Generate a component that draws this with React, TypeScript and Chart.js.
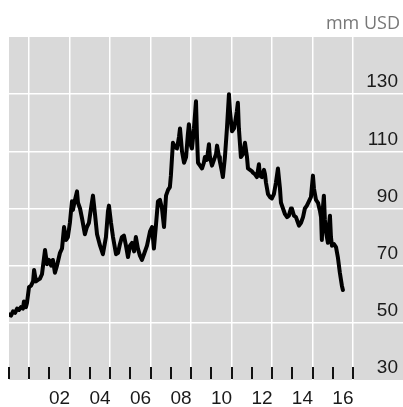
import React, { useEffect, useRef } from "react";
import { Chart, registerables } from "chart.js";

Chart.register(...registerables);

// Decimal-year positions of the traced points
const years: number[] = [
  2000.00, 2000.10, 2000.20, 2000.30, 2000.40, 2000.49, 2000.59, 2000.69, 2000.74, 2000.84,
  2000.89, 2000.99, 2001.09, 2001.19, 2001.24, 2001.33, 2001.43, 2001.53, 2001.63, 2001.78,
  2001.88, 2001.98, 2002.08, 2002.17, 2002.27, 2002.37, 2002.52, 2002.62, 2002.72, 2002.82,
  2002.91, 2003.01, 2003.11, 2003.16, 2003.26, 2003.36, 2003.41, 2003.51, 2003.61, 2003.75,
  2003.85, 2003.95, 2004.05, 2004.15, 2004.25, 2004.35, 2004.50, 2004.64, 2004.79, 2004.89,
  2004.94, 2005.04, 2005.14, 2005.29, 2005.39, 2005.48, 2005.58, 2005.68, 2005.78, 2005.88,
  2005.98, 2006.08, 2006.18, 2006.27, 2006.37, 2006.47, 2006.57, 2006.67, 2006.82, 2006.97,
  2007.07, 2007.16, 2007.26, 2007.36, 2007.46, 2007.56, 2007.66, 2007.76, 2007.86, 2007.95,
  2008.00, 2008.10, 2008.20, 2008.30, 2008.40, 2008.45, 2008.55, 2008.65, 2008.75, 2008.84,
  2008.89, 2008.99, 2009.04, 2009.14, 2009.24, 2009.29, 2009.34, 2009.44, 2009.54, 2009.63,
  2009.68, 2009.78, 2009.88, 2009.93, 2010.03, 2010.13, 2010.23, 2010.28, 2010.38, 2010.42,
  2010.52, 2010.57, 2010.67, 2010.77, 2010.87, 2010.92, 2011.02, 2011.12, 2011.17, 2011.26,
  2011.31, 2011.36, 2011.46, 2011.56, 2011.66, 2011.76, 2011.81, 2011.91, 2012.01, 2012.06,
  2012.15, 2012.25, 2012.35, 2012.40, 2012.50, 2012.60, 2012.65, 2012.70, 2012.80, 2012.90,
  2012.99, 2013.09, 2013.19, 2013.29, 2013.39, 2013.44, 2013.54, 2013.64, 2013.74, 2013.83,
  2013.93, 2013.98, 2014.08, 2014.18, 2014.28, 2014.33, 2014.43, 2014.53, 2014.62, 2014.72,
  2014.82, 2014.92, 2015.02, 2015.07, 2015.17, 2015.27, 2015.37, 2015.42, 2015.46, 2015.51,
  2015.56, 2015.61, 2015.66, 2015.71, 2015.76, 2015.81, 2015.86, 2015.91, 2015.96, 2016.06,
  2016.16, 2016.25, 2016.35, 2016.45, 2016.50,
];

// Values, mm USD
const values: number[] = [
  53.0, 52.5, 54.0, 53.5, 55.0, 54.5, 55.5, 55.0, 57.5, 55.5,
  57.0, 62.5, 63.0, 64.5, 68.5, 64.5, 65.0, 65.5, 67.0, 75.5,
  70.5, 72.0, 70.0, 72.0, 67.5, 70.0, 74.5, 76.0, 83.5, 79.0,
  80.0, 85.0, 92.5, 89.5, 93.0, 96.0, 92.0, 90.0, 86.5, 81.0,
  83.5, 85.0, 90.0, 94.5, 88.0, 81.0, 77.0, 74.0, 80.0, 89.0,
  91.0, 85.0, 80.0, 74.0, 74.5, 77.5, 80.0, 80.5, 77.0, 73.0,
  77.0, 78.0, 75.0, 80.0, 76.0, 73.5, 72.0, 74.0, 77.0, 82.0,
  83.5, 76.0, 84.0, 92.5, 93.0, 90.0, 83.5, 94.5, 96.5, 97.5,
  101.5, 113.0, 111.5, 111.0, 115.0, 118.0, 110.0, 106.0, 108.0, 116.0,
  119.5, 112.0, 111.0, 118.0, 127.5, 115.0, 106.0, 105.0, 104.0, 106.0,
  108.0, 107.0, 112.5, 108.0, 105.0, 107.0, 109.0, 112.0, 108.0, 106.5,
  103.0, 101.0, 108.0, 118.0, 130.0, 124.0, 117.0, 118.0, 120.0, 124.0,
  127.0, 118.0, 108.0, 109.0, 113.0, 108.0, 104.0, 103.5, 103.0, 102.5,
  102.0, 101.0, 105.5, 101.5, 101.0, 103.5, 102.0, 99.0, 95.0, 94.0,
  93.5, 95.0, 99.0, 104.0, 97.0, 92.0, 90.0, 88.0, 87.0, 87.5,
  90.0, 90.0, 87.5, 87.0, 85.0, 84.0, 85.0, 87.0, 90.0, 91.0,
  92.5, 94.0, 101.5, 97.0, 93.0, 92.0, 89.0, 87.0, 79.0, 90.0,
  94.5, 86.0, 82.0, 80.0, 78.0, 84.0, 87.5, 80.0, 77.0, 77.5,
  76.5, 73.0, 67.5, 63.0, 61.5,
];

// Axis content
const gridYears: number[] = [2001, 2003, 2005, 2007, 2009, 2011, 2013, 2015, 2017];
const tickYears: number[] = [
  2000, 2001, 2002, 2003, 2004, 2005, 2006, 2007, 2008, 2009,
  2010, 2011, 2012, 2013, 2014, 2015, 2016, 2017,
];
const xLabelPositions: number[] = [2002.5, 2004.5, 2006.5, 2008.5, 2010.5, 2012.5, 2014.5, 2016.5];
const xLabels: string[] = ["02", "04", "06", "08", "10", "12", "14", "16"];
const yTicks: number[] = [30, 50, 70, 90, 110, 130, 150];
const unitLabel = "mm USD";

const NUM_FONT = "'Liberation Sans', Arial, sans-serif";
const TITLE_FONT = "'Open Sans', 'Noto Sans', sans-serif";

const bgPlugin = {
  id: "bgPlugin",
  beforeDraw(chart: any) {
    const { ctx, chartArea } = chart;
    ctx.save();
    ctx.fillStyle = "#d9d9d9";
    ctx.fillRect(chartArea.left, chartArea.top, chart.width - chartArea.left, chartArea.bottom - chartArea.top);
    ctx.restore();
  },
  afterDraw(chart: any) {
    const { ctx, chartArea, scales } = chart;
    const x = scales.x;
    ctx.save();
    ctx.strokeStyle = "#111111";
    ctx.lineWidth = 2;
    for (const yr of tickYears) {
      const px = Math.round(x.getPixelForValue(yr));
      ctx.beginPath();
      ctx.moveTo(px, chartArea.bottom - 13);
      ctx.lineTo(px, chartArea.bottom - 1);
      ctx.stroke();
    }
    ctx.fillStyle = "#777777";
    ctx.font = `18px ${TITLE_FONT}`;
    ctx.textAlign = "right";
    ctx.textBaseline = "middle";
    ctx.fillText(unitLabel, chart.width - 3, chartArea.top - 13);
    ctx.restore();
  },
};

export default function App() {
  const ref = useRef<HTMLCanvasElement>(null);
  useEffect(() => {
    if (!ref.current) return;
    const chart = new Chart(ref.current, {
      type: "line",
      data: {
        datasets: [
          {
            data: years.map((x, i) => ({ x, y: values[i] })),
            borderColor: "#000000",
            borderWidth: 4,
            pointRadius: 0,
            tension: 0,
            borderJoinStyle: "round",
            borderCapStyle: "round",
          },
        ],
      },
      options: {
        animation: false,
        responsive: false,
        maintainAspectRatio: false,
        layout: { padding: { left: 9, top: 37, right: 0, bottom: 0 } },
        plugins: { legend: { display: false }, tooltip: { enabled: false } },
        scales: {
          x: {
            type: "linear",
            min: 2000,
            max: 2019.47,
            afterBuildTicks: (axis: any) => {
              const vals = [...gridYears, ...xLabelPositions].sort((a, b) => a - b);
              axis.ticks = vals.map((v) => ({ value: v }));
            },
            grid: {
              drawTicks: false,
              lineWidth: 1.5,
              color: (c: any) => (c.tick && gridYears.includes(c.tick.value) ? "#ffffff" : "rgba(0,0,0,0)"),
            },
            border: { display: false },
            ticks: {
              autoSkip: false,
              maxRotation: 0,
              padding: 9.5,
              color: "#1a1a1a",
              font: { family: NUM_FONT, size: 19, lineHeight: 1 },
              callback: (v: any) => {
                const i = xLabelPositions.indexOf(Number(v));
                return i >= 0 ? xLabels[i] : "";
              },
            },
          },
          y: {
            type: "linear",
            position: "right",
            min: 30,
            max: 150,
            afterBuildTicks: (axis: any) => {
              axis.ticks = yTicks.map((v) => ({ value: v }));
            },
            afterFit: (axis: any) => {
              axis.width = 0;
            },
            grid: {
              drawTicks: false,
              lineWidth: 1.5,
              color: (c: any) =>
                c.tick && (c.tick.value === 150 || c.tick.value === 30) ? "rgba(0,0,0,0)" : "#ffffff",
            },
            border: { display: false },
            ticks: {
              mirror: true,
              padding: -5,
              labelOffset: -12,
              color: "#1a1a1a",
              font: { family: NUM_FONT, size: 19 },
              callback: (v: any) => (Number(v) === 150 ? "" : String(v)),
            },
          },
        },
      },
      plugins: [bgPlugin],
    });
    return () => chart.destroy();
  }, []);
  return (
    <div style={{ position: "fixed", left: 0, top: 0, width: 403, height: 418 }}>
      <canvas ref={ref} width={403} height={418} style={{ display: "block" }} />
    </div>
  );
}
